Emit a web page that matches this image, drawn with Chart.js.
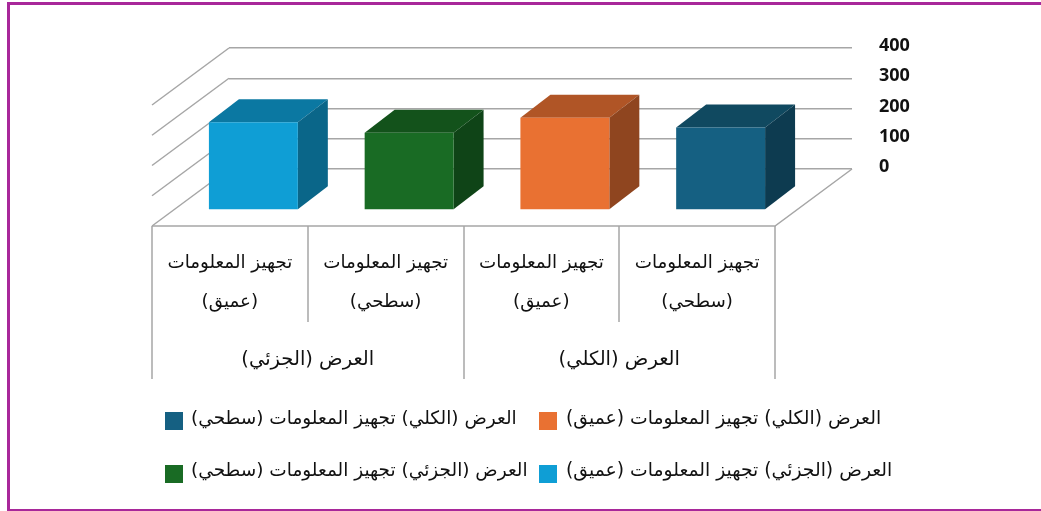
<!DOCTYPE html>
<html lang="ar">
<head>
<meta charset="utf-8">
<title>العرض</title>
<script src="https://cdn.jsdelivr.net/npm/chart.js@4/dist/chart.umd.min.js"></script>
<style>
  html, body { margin:0; padding:0; background:#fff; overflow:hidden; }
  #wrap { position:relative; width:1041px; height:511px; }
  #frame { position:absolute; left:7px; top:2px; right:0; bottom:0; border:solid #a8289a; border-width:3px 0 2px 3px; }
  canvas { position:absolute; left:0; top:0; }
  .lg { position:absolute; font:18.8px "DejaVu Sans", sans-serif; color:#111; white-space:nowrap; direction:rtl; line-height:20px; }
  .sw { position:absolute; width:18px; height:18px; }
</style>
</head>
<body>
<div id="wrap">
  <div id="frame"></div>
  <canvas id="c" width="1041" height="511" dir="rtl"></canvas>
</div>
<script>
  const detailLabels = [
    ["تجهيز المعلومات", "(عميق)"],
    ["تجهيز المعلومات", "(سطحي)"],
    ["تجهيز المعلومات", "(عميق)"],
    ["تجهيز المعلومات", "(سطحي)"]
  ];
  const groupLabels = ["العرض (الجزئي)", "العرض (الكلي)"];
  const values = [290, 255, 305, 273];
  const yTicks = [0, 100, 200, 300, 400];
  const seriesNames = [
    "العرض (الجزئي) تجهيز المعلومات (عميق)",
    "العرض (الجزئي) تجهيز المعلومات (سطحي)",
    "العرض (الكلي) تجهيز المعلومات (عميق)",
    "العرض (الكلي) تجهيز المعلومات (سطحي)"
  ];
  const frontColors = ["#0f9ed5", "#196b24", "#e97132", "#156082"];
  const topColors = ["#0b78a2", "#13521b", "#b05526", "#104960"];
  const sideColors = ["#0a6689", "#0f4417", "#8f451f", "#0d3b50"];

  // 3d look: wall -> floor front, wall -> bar plane, bar depth
  const FLOOR = { dx: -77, dy: 57 };
  const BAR_PLANE = { dx: -53.5, dy: 41 };
  const BAR_DEPTH = { dx: 30, dy: -23 };
  const LINE = "#a6a6a6";

  function poly(ctx, pts, fill){
    ctx.beginPath();
    pts.forEach((p, i)=> i ? ctx.lineTo(p[0], p[1]) : ctx.moveTo(p[0], p[1]));
    ctx.closePath();
    ctx.fillStyle = fill;
    ctx.fill();
  }

  const box3d = {
    id: "box3d",
    beforeDatasetsDraw(chart){
      const { ctx, chartArea:a, scales } = chart;
      ctx.save();
      ctx.strokeStyle = LINE;
      ctx.lineWidth = 1.5;
      // left wall
      yTicks.forEach(v=>{
        const y = scales.y.getPixelForValue(v);
        ctx.beginPath(); ctx.moveTo(a.left, y); ctx.lineTo(a.left + FLOOR.dx, y + FLOOR.dy); ctx.stroke();
      });
      // floor edges
      const y0 = scales.y.getPixelForValue(0);
      const fy = y0 + FLOOR.dy;
      ctx.beginPath();
      ctx.moveTo(a.right, y0); ctx.lineTo(a.right + FLOOR.dx, fy); ctx.lineTo(a.left + FLOOR.dx, fy);
      ctx.stroke();
      // category dividers under the floor
      const step = (a.right - a.left) / values.length;
      for (let i = 0; i <= values.length; i++){
        const x = Math.round(a.left + FLOOR.dx + i * step);
        ctx.beginPath(); ctx.moveTo(x, fy); ctx.lineTo(x, fy + (i % 2 ? 96 : 153)); ctx.stroke();
      }
      ctx.restore();

      // restored in afterDatasetsDraw, bars sit in front of the wall
      ctx.save();
      ctx.translate(BAR_PLANE.dx, BAR_PLANE.dy);
      chart.getDatasetMeta(0).data.forEach((bar, i)=>{
        const l = bar.x - bar.width / 2, r = bar.x + bar.width / 2, t = bar.y, b = bar.base;
        const d = BAR_DEPTH;
        poly(ctx, [[l,t],[r,t],[r+d.dx,t+d.dy],[l+d.dx,t+d.dy]], topColors[i]);
        poly(ctx, [[r,t],[r,b],[r+d.dx,b+d.dy],[r+d.dx,t+d.dy]], sideColors[i]);
      });
    },
    afterDatasetsDraw(chart){ chart.ctx.restore(); }
  };

  const arabicFamily = '"DejaVu Sans", sans-serif';

  new Chart(document.getElementById("c"), {
    type: "bar",
    data: {
      labels: detailLabels,
      datasets: [{ data: values, backgroundColor: frontColors, barPercentage: 0.571, categoryPercentage: 1, clip: false }]
    },
    plugins: [box3d],
    options: {
      responsive: false,
      animation: false,
      layout: { padding: { left:229, top:48, right:0, bottom:0 } },
      plugins: { legend: { display:false }, tooltip: { enabled:false } },
      scales: {
        y: {
          position: "right", min: 0, max: 400,
          afterBuildTicks: s => { s.ticks = yTicks.map(v=>({ value:v })); },
          afterFit: s => { s.width = 189; },
          grid: { color:LINE, lineWidth:1.5, drawTicks:false },
          border: { display:false },
          ticks: { color:"#111", padding:27, labelOffset:-2, font:{ family:'"Open Sans", sans-serif', size:18, weight:"700" } }
        },
        x: {
          position: "bottom",
          afterFit: s => { s.height = 171; },
          grid: { display:false, drawTicks:false },
          border: { display:false },
          ticks: { color:"#111", autoSkip:false, maxRotation:0, labelOffset:FLOOR.dx, padding:75,
                   font:{ family:arabicFamily, size:18.3, lineHeight:2.13 } }
        },
        x2: {
          type: "category", position: "bottom", axis: "x", weight: 1, offset: true,
          labels: groupLabels,
          afterFit: s => { s.height = 171; },
          grid: { display:false, drawTicks:false },
          border: { display:false },
          ticks: { color:"#111", autoSkip:false, maxRotation:0, labelOffset:FLOOR.dx, padding:8,
                   font:{ family:arabicFamily, size:19.5 } }
        }
      }
    }
  });

  // legend sits in a fixed two-by-two grid, right column first
  const legendSlots = [
    { name:0, sw:[539,465], text:566, y:460, size:18.8 },
    { name:1, sw:[165,465], text:191, y:460, size:18.5 },
    { name:2, sw:[539,412], text:566, y:408, size:18.8 },
    { name:3, sw:[165,412], text:191, y:408, size:18.5 }
  ];
  const wrap = document.getElementById("wrap");
  legendSlots.forEach(s=>{
    const sw = document.createElement("div");
    sw.className = "sw";
    sw.style.cssText = `left:${s.sw[0]}px;top:${s.sw[1]}px;background:${frontColors[s.name]}`;
    wrap.appendChild(sw);
    const t = document.createElement("div");
    t.className = "lg";
    t.style.cssText = `left:${s.text}px;top:${s.y}px;font-size:${s.size}px`;
    t.textContent = seriesNames[s.name];
    wrap.appendChild(t);
  });
</script>
</body>
</html>
